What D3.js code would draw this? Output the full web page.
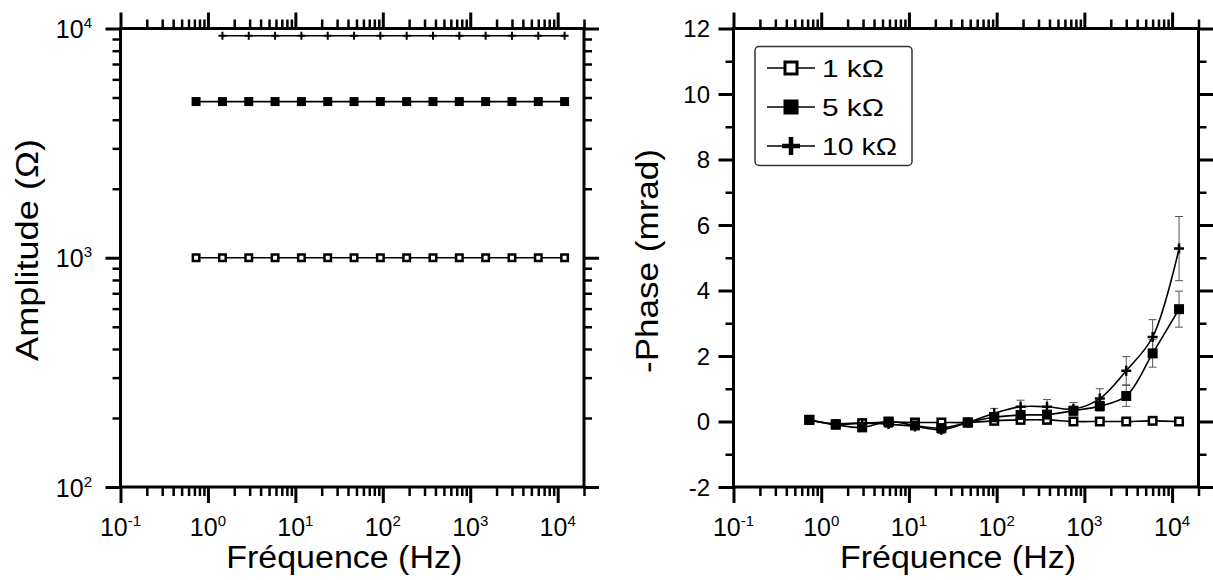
<!DOCTYPE html>
<html>
<head>
<meta charset="utf-8">
<script src="https://cdn.jsdelivr.net/npm/d3@7"></script>
<style>
body { margin: 0; background: #fff; }
text { font-family: "Liberation Sans", Arial, sans-serif; fill: #000; }
</style>
</head>
<body>
<svg id="chart" width="1213" height="580"></svg>
<script>
// measurement frequencies (Hz)
var freq = [0.732, 1.465, 2.93, 5.86, 11.72, 23.44, 46.88, 93.75, 187.5, 375, 750, 1500, 3000, 6000, 12000];
var freq10k = [1.465, 2.93, 5.86, 11.72, 23.44, 46.88, 93.75, 187.5, 375, 750, 1500, 3000, 6000, 12000];

// amplitude (ohm)
var amp1k = [1000, 1000, 1000, 1000, 1000, 1000, 1000, 1000, 1000, 1000, 1000, 1000, 1000, 1000, 1000];
var amp5k = [4800, 4800, 4800, 4800, 4800, 4800, 4800, 4800, 4800, 4800, 4800, 4800, 4800, 4800, 4800];
var amp10k = [9300, 9300, 9300, 9300, 9300, 9300, 9300, 9300, 9300, 9300, 9300, 9300, 9300, 9300];

// -phase (mrad) and error bars
var phase1k = [0.05, -0.08, -0.05, -0.02, -0.03, -0.03, -0.03, 0.02, 0.05, 0.05, 0.0, 0.0, 0.0, 0.02, 0.0];
var err1k = [0.03, 0.03, 0.03, 0.03, 0.03, 0.03, 0.03, 0.03, 0.03, 0.03, 0.03, 0.03, 0.03, 0.03, 0.03];
var phase5k = [0.05, -0.1, -0.18, 0.0, -0.12, -0.2, -0.03, 0.13, 0.2, 0.21, 0.33, 0.47, 0.78, 2.08, 3.43];
var err5k = [0.05, 0.05, 0.08, 0.05, 0.05, 0.06, 0.05, 0.1, 0.12, 0.12, 0.1, 0.15, 0.32, 0.42, 0.55];
var phase10k = [-0.08, -0.05, -0.08, -0.15, -0.25, -0.03, 0.25, 0.45, 0.45, 0.38, 0.7, 1.55, 2.58, 5.28];
var err10k = [0.05, 0.1, 0.1, 0.08, 0.12, 0.1, 0.15, 0.2, 0.22, 0.2, 0.3, 0.43, 0.53, 0.98];

var seriesNames = ["1 k\u03A9", "5 k\u03A9", "10 k\u03A9"];
var xTickExp = [-1, 0, 1, 2, 3, 4];
var ampTickExp = [2, 3, 4];
var phaseTicks = [-2, 0, 2, 4, 6, 8, 10, 12];
var phaseMinor = [-1, 1, 3, 5, 7, 9, 11];

var svg = d3.select("#chart");

var xL = d3.scaleLog().domain([0.1, 20000]).range([120.5, 584]);
var yL = d3.scaleLog().domain([100, 10000]).range([487, 28.5]);
var xR = d3.scaleLog().domain([0.1, 20000]).range([733.5, 1198.5]);
var yR = d3.scaleLinear().domain([-2, 12]).range([487, 28.5]);

function ticksOn(axis, tr, vals, size) {
    svg.append("g")
        .attr("transform", tr)
        .call(axis.tickValues(vals).tickSize(size).tickSizeOuter(0).tickFormat(""))
        .call(function(g) { g.select(".domain").remove(); })
        .selectAll("line")
        .attr("stroke", "#000")
        .attr("stroke-width", size > 12 ? 3 : 2.5);
}

function frame(x, y, yMajor, yMinor) {
    var x0 = x.range()[0], x1 = x.range()[1], y0 = y.range()[0], y1 = y.range()[1];
    var xMajor = xTickExp.map(function(e) { return Math.pow(10, e); });
    var xMinor = x.ticks().filter(function(t) {
        return !xMajor.some(function(m) { return Math.abs(m - t) / m < 1e-6; });
    });
    ticksOn(d3.axisBottom(x), "translate(0," + y0 + ")", xMajor, 16);
    ticksOn(d3.axisBottom(x), "translate(0," + y0 + ")", xMinor, 9);
    ticksOn(d3.axisTop(x), "translate(0," + y1 + ")", xMajor, 16);
    ticksOn(d3.axisTop(x), "translate(0," + y1 + ")", xMinor, 9);
    ticksOn(d3.axisLeft(y), "translate(" + x0 + ",0)", yMajor, 15);
    ticksOn(d3.axisLeft(y), "translate(" + x0 + ",0)", yMinor, 8);
    ticksOn(d3.axisRight(y), "translate(" + x1 + ",0)", yMajor, 15);
    ticksOn(d3.axisRight(y), "translate(" + x1 + ",0)", yMinor, 8);

    svg.append("rect")
        .attr("x", x0).attr("y", y1)
        .attr("width", x1 - x0).attr("height", y0 - y1)
        .attr("fill", "none").attr("stroke", "#000").attr("stroke-width", 3);

    // x tick labels 10^n
    var lab = svg.append("g").selectAll("text")
        .data(xTickExp).join("text")
        .attr("x", function(d) { return x(Math.pow(10, d)); })
        .attr("y", 536)
        .attr("text-anchor", "middle")
        .attr("font-size", 25);
    lab.append("tspan").text("10");
    lab.append("tspan").attr("dy", -10).attr("font-size", 15).text(function(d) { return d; });

    svg.append("text")
        .attr("x", (x0 + x1) / 2 - 8).attr("y", 568)
        .attr("text-anchor", "middle").attr("font-size", 31)
        .attr("textLength", 236).attr("lengthAdjust", "spacingAndGlyphs")
        .text("Fréquence (Hz)");
}

// ---- left panel : amplitude
var ampMajor = ampTickExp.map(function(e) { return Math.pow(10, e); });
var ampMinor = yL.ticks().filter(function(t) {
    return !ampMajor.some(function(m) { return Math.abs(m - t) / m < 1e-6; });
});
frame(xL, yL, ampMajor, ampMinor);

var ylab = svg.append("g").selectAll("text")
    .data(ampTickExp).join("text")
    .attr("x", 92)
    .attr("y", function(d) { return yL(Math.pow(10, d)) + 9.5; })
    .attr("text-anchor", "end")
    .attr("font-size", 25);
ylab.append("tspan").text("10");
ylab.append("tspan").attr("dy", -10).attr("font-size", 15).text(function(d) { return d; });

svg.append("text")
    .attr("transform", "translate(38,250) rotate(-90)")
    .attr("text-anchor", "middle").attr("font-size", 31)
    .attr("textLength", 222).attr("lengthAdjust", "spacingAndGlyphs")
    .text("Amplitude (\u03A9)");

function markers(g, pts, type, size, sw) {
    if (type === "plus") {
        g.selectAll(null).data(pts).join("path")
            .attr("d", function(p) {
                var h = size / 2;
                return "M" + (p[0] - h) + "," + p[1] + "H" + (p[0] + h) + "M" + p[0] + "," + (p[1] - h) + "V" + (p[1] + h);
            })
            .attr("stroke", "#000").attr("stroke-width", sw).attr("fill", "none");
    } else {
        var open = type === "open";
        var s = open ? size - sw : size;
        g.selectAll(null).data(pts).join("rect")
            .attr("x", function(p) { return p[0] - s / 2; })
            .attr("y", function(p) { return p[1] - s / 2; })
            .attr("width", s).attr("height", s)
            .attr("fill", open ? "#fff" : "#000")
            .attr("stroke", "#000").attr("stroke-width", open ? sw : 0);
    }
}

function zip(xs, ys, x, y) {
    return xs.map(function(f, i) { return [x(f), y(ys[i])]; });
}

var straight = d3.line();
var ampSeries = [
    {f: freq, v: amp1k, type: "open", size: 9},
    {f: freq, v: amp5k, type: "filled", size: 9},
    {f: freq10k, v: amp10k, type: "plus", size: 8}
];
ampSeries.forEach(function(s) {
    var pts = zip(s.f, s.v, xL, yL);
    var g = svg.append("g");
    g.append("path").attr("d", straight(pts)).attr("fill", "none").attr("stroke", "#000").attr("stroke-width", 1.6);
    markers(g, pts, s.type, s.size, s.type === "plus" ? 2 : 2.5);
});

// ---- right panel : phase
frame(xR, yR, phaseTicks, phaseMinor);

svg.append("g").selectAll("text")
    .data(phaseTicks).join("text")
    .attr("x", 710)
    .attr("y", function(d) { return yR(d) + 8.5; })
    .attr("text-anchor", "end")
    .attr("font-size", 24)
    .text(function(d) { return d; });

svg.append("text")
    .attr("transform", "translate(658,261) rotate(-90)")
    .attr("text-anchor", "middle").attr("font-size", 31)
    .attr("textLength", 224).attr("lengthAdjust", "spacingAndGlyphs")
    .text("-Phase (mrad)");

var smooth = d3.line().curve(d3.curveCatmullRom.alpha(0.5));
var phaseSeries = [
    {f: freq, v: phase1k, e: err1k, type: "open", size: 10},
    {f: freq, v: phase5k, e: err5k, type: "filled", size: 10},
    {f: freq10k, v: phase10k, e: err10k, type: "plus", size: 10}
];
phaseSeries.forEach(function(s) {
    var g = svg.append("g");
    s.f.forEach(function(f, i) {
        var cx = xR(f), top = yR(s.v[i] + s.e[i]), bot = yR(s.v[i] - s.e[i]);
        g.append("path")
            .attr("d", "M" + cx + "," + top + "V" + bot + "M" + (cx - 4) + "," + top + "H" + (cx + 4) + "M" + (cx - 4) + "," + bot + "H" + (cx + 4))
            .attr("stroke", "#555").attr("stroke-width", 1).attr("fill", "none");
    });
});
phaseSeries.forEach(function(s) {
    var pts = zip(s.f, s.v, xR, yR);
    var g = svg.append("g");
    g.append("path").attr("d", smooth(pts)).attr("fill", "none").attr("stroke", "#000").attr("stroke-width", 1.6);
    markers(g, pts, s.type, s.size, 2.5);
});

// legend
var leg = svg.append("g");
leg.append("rect")
    .attr("x", 755).attr("y", 46.5).attr("width", 157).attr("height", 119).attr("rx", 4)
    .attr("fill", "#fff").attr("stroke", "#333").attr("stroke-width", 1.5);
var legTypes = ["open", "filled", "plus"];
var legLen = [62, 62, 75];
var legY = d3.scalePoint().domain(seriesNames).range([68, 146]);
seriesNames.forEach(function(name, i) {
    var cy = legY(name);
    leg.append("line").attr("x1", 767).attr("x2", 815).attr("y1", cy).attr("y2", cy)
        .attr("stroke", "#000").attr("stroke-width", 1.6);
    markers(leg, [[791, cy]], legTypes[i], i === 2 ? 18 : 15, i === 2 ? 4.5 : 3);
    leg.append("text").attr("x", 822).attr("y", cy + 8.5).attr("font-size", 24)
        .attr("textLength", legLen[i]).attr("lengthAdjust", "spacingAndGlyphs")
        .text(name);
});
</script>
</body>
</html>
